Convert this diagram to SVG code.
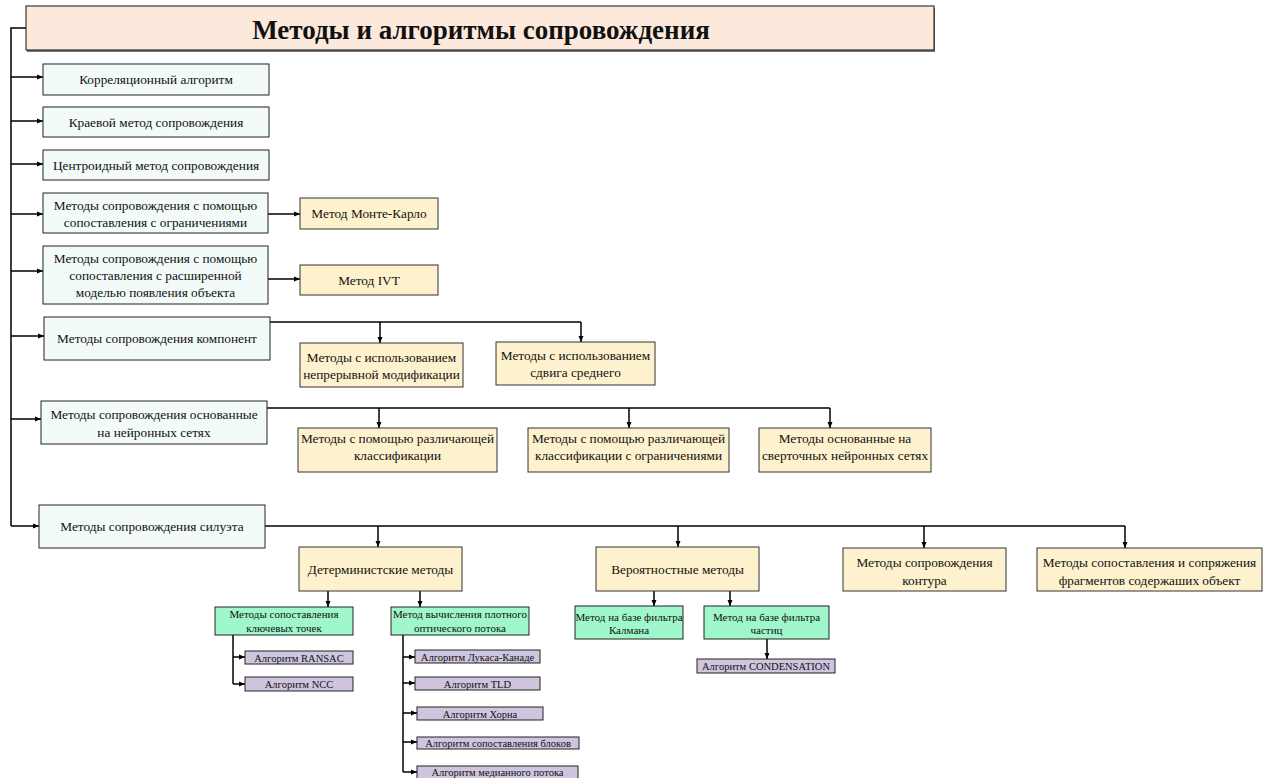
<svg xmlns="http://www.w3.org/2000/svg" width="1263" height="778" viewBox="0 0 1263 778">
<defs>
<marker id="ar" markerWidth="6" markerHeight="6" refX="6" refY="3" orient="auto" markerUnits="userSpaceOnUse"><path d="M0,0.5 L6,3 L0,5.5z" fill="#000"/></marker>
<style>
text{font-family:"Liberation Serif","Times New Roman",serif;fill:#111;text-anchor:middle}
.t{font-size:13.3px}
.g{font-size:11px}
.p{font-size:10.5px}
.c1 rect{fill:#f2fbf8;stroke:#222;stroke-width:1}
.or rect{fill:#fef1cd;stroke:#333;stroke-width:1}
.gr rect{fill:#9ff7cb;stroke:#222;stroke-width:1}
.pu rect{fill:#cfc5de;stroke:#222;stroke-width:1}
.cn path{fill:none;stroke:#000;stroke-width:1.5}
.cn .a{marker-end:url(#ar)}
</style>
</defs>
<rect width="1263" height="778" fill="#fff"/>
<g id="title">
<rect x="27" y="8" width="908" height="44" fill="#777"/>
<rect x="26" y="6" width="908" height="44" fill="#fce9dc" stroke="#111" stroke-width="1"/>
<text x="481" y="39" style="font-size:27px;font-weight:bold">Методы и алгоритмы сопровождения</text>
</g>
<g class="cn" id="connectors">
<path d="M26,28 H11 V526"/>
<path class="a" d="M11,77 H43"/>
<path class="a" d="M11,121 H43"/>
<path class="a" d="M11,164 H43"/>
<path class="a" d="M11,214 H43"/>
<path class="a" d="M11,271 H43"/>
<path class="a" d="M11,336 H44"/>
<path class="a" d="M11,419 H41"/>
<path class="a" d="M11,526 H39"/>
<path class="a" d="M268,214 H300"/>
<path class="a" d="M268,279 H300"/>
<path d="M270,322 H581"/>
<path class="a" d="M380,322 V343"/>
<path class="a" d="M581,322 V342"/>
<path d="M267,408 H830"/>
<path class="a" d="M379,408 V428"/>
<path class="a" d="M629,408 V428"/>
<path class="a" d="M830,408 V428"/>
<path d="M265,526 H1125"/>
<path class="a" d="M378,526 V547"/>
<path class="a" d="M678,526 V547"/>
<path class="a" d="M924,526 V548"/>
<path class="a" d="M1125,526 V548"/>
<path class="a" d="M328,591 V607"/>
<path class="a" d="M420,591 V607"/>
<path class="a" d="M654,591 V606"/>
<path class="a" d="M730,591 V606"/>
<path class="a" d="M767,639 V659"/>
<path d="M233,635 V684"/>
<path class="a" d="M233,657 H245"/>
<path class="a" d="M233,684 H245"/>
<path d="M403,635 V772"/>
<path class="a" d="M403,657 H415"/>
<path class="a" d="M403,683 H415"/>
<path class="a" d="M403,713 H417"/>
<path class="a" d="M403,742 H417"/>
<path class="a" d="M403,772 H417"/>
</g>
<g id="n1" class="c1"><rect x="43" y="64" width="226" height="31"/><text class="t" x="156" y="84">Корреляционный алгоритм</text></g>
<g id="n2" class="c1"><rect x="43" y="107" width="226" height="30"/><text class="t" x="156" y="126.5">Краевой метод сопровождения</text></g>
<g id="n3" class="c1"><rect x="43" y="150" width="226" height="30"/><text class="t" x="156" y="169.5">Центроидный метод сопровождения</text></g>
<g id="n4" class="c1"><rect x="43" y="193" width="225" height="40"/><text class="t" x="155.5" y="209.5">Методы сопровождения с помощью</text><text class="t" x="155.5" y="226.5">сопоставления с ограничениями</text></g>
<g id="n5" class="c1"><rect x="43" y="246" width="225" height="58"/><text class="t" x="155.5" y="262.5">Методы сопровождения с помощью</text><text class="t" x="155.5" y="279.5">сопоставления с расширенной</text><text class="t" x="155.5" y="296.5">моделью появления объекта</text></g>
<g id="n6" class="c1"><rect x="44" y="317" width="226" height="43"/><text class="t" x="157" y="343">Методы сопровождения компонент</text></g>
<g id="n7" class="c1"><rect x="41" y="401" width="226" height="43"/><text class="t" x="154" y="418.5">Методы сопровождения основанные</text><text class="t" x="154" y="436.5">на нейронных сетях</text></g>
<g id="n8" class="c1"><rect x="39" y="505" width="226" height="43"/><text class="t" x="152" y="531">Методы сопровождения силуэта</text></g>
<g id="mc" class="or"><rect x="300" y="198" width="138" height="31"/><text class="t" x="369" y="218">Метод Монте-Карло</text></g>
<g id="ivt" class="or"><rect x="300" y="265" width="138" height="30"/><text class="t" x="369" y="284.5">Метод IVT</text></g>
<g id="k1" class="or"><rect x="300" y="343" width="163" height="44"/><text class="t" x="381.5" y="361.5">Методы с использованием</text><text class="t" x="381.5" y="378.5">непрерывной модификации</text></g>
<g id="k2" class="or"><rect x="496" y="342" width="159" height="43"/><text class="t" x="575.5" y="359.5">Методы с использованием</text><text class="t" x="575.5" y="376.5">сдвига среднего</text></g>
<g id="s1" class="or"><rect x="298" y="428" width="199" height="44"/><text class="t" x="397.5" y="442.5">Методы с помощью различающей</text><text class="t" x="397.5" y="460">классификации</text></g>
<g id="s2" class="or"><rect x="528" y="428" width="201" height="44"/><text class="t" x="628.5" y="442.5">Методы с помощью различающей</text><text class="t" x="628.5" y="460">классификации с ограничениями</text></g>
<g id="s3" class="or"><rect x="759" y="428" width="172" height="44"/><text class="t" x="845" y="442.5">Методы основанные на</text><text class="t" x="845" y="460">сверточных нейронных сетях</text></g>
<g id="det" class="or"><rect x="299" y="547" width="163" height="44"/><text class="t" x="380.5" y="573.5">Детерминистские методы</text></g>
<g id="prob" class="or"><rect x="596" y="547" width="163" height="44"/><text class="t" x="677.5" y="573.5">Вероятностные методы</text></g>
<g id="kont" class="or"><rect x="843" y="548" width="163" height="43"/><text class="t" x="924.5" y="566.5">Методы сопровождения</text><text class="t" x="924.5" y="584.5">контура</text></g>
<g id="frag" class="or"><rect x="1037" y="548" width="225" height="43"/><text class="t" x="1149.5" y="566.5">Методы сопоставления и сопряжения</text><text class="t" x="1149.5" y="584.5">фрагментов содержаших объект</text></g>
<g id="kp" class="gr"><rect x="215" y="607" width="138" height="28"/><text class="g" x="284" y="618">Методы сопоставления</text><text class="g" x="284" y="632">ключевых точек</text></g>
<g id="of" class="gr"><rect x="391" y="607" width="138" height="28"/><text class="g" x="460" y="618">Метод вычисления плотного</text><text class="g" x="460" y="632">оптического потока</text></g>
<g id="kal" class="gr"><rect x="575" y="606" width="108" height="33"/><text class="g" x="629" y="621">Метод на базе фильтра</text><text class="g" x="629" y="634">Калмана</text></g>
<g id="par" class="gr"><rect x="704" y="606" width="125" height="33"/><text class="g" x="766.5" y="621">Метод на базе фильтра</text><text class="g" x="766.5" y="634">частиц</text></g>
<g id="cond" class="pu"><rect x="697" y="659" width="138" height="14"/><text class="p" x="766" y="670">Алгоритм CONDENSATION</text></g>
<g id="ransac" class="pu"><rect x="245" y="651" width="108" height="13"/><text class="p" x="299" y="661.5">Алгоритм RANSAC</text></g>
<g id="ncc" class="pu"><rect x="245" y="677" width="108" height="14"/><text class="p" x="299" y="688">Алгоритм NCC</text></g>
<g id="lk" class="pu"><rect x="415" y="650" width="125" height="13"/><text class="p" x="477.5" y="660.5">Алгоритм Лукаса-Канаде</text></g>
<g id="tld" class="pu"><rect x="415" y="677" width="125" height="13"/><text class="p" x="477.5" y="687.5">Алгоритм TLD</text></g>
<g id="horn" class="pu"><rect x="417" y="707" width="126" height="13"/><text class="p" x="480" y="717.5">Алгоритм Хорна</text></g>
<g id="blk" class="pu"><rect x="417" y="737" width="162" height="12"/><text class="p" x="498" y="747">Алгоритм сопоставления блоков</text></g>
<g id="med" class="pu"><rect x="417" y="766" width="161" height="13"/><text class="p" x="497.5" y="776">Алгоритм медианного потока</text></g>
</svg>
